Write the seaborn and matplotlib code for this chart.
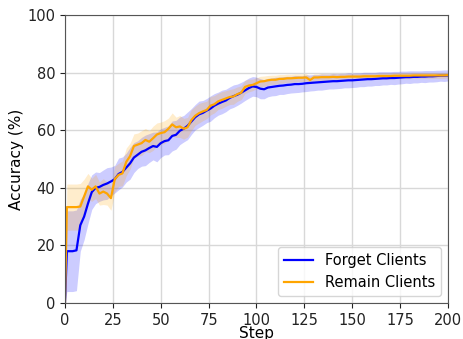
import matplotlib
matplotlib.use("Agg")
import matplotlib.pyplot as plt
import seaborn as sns
import numpy as np
import pandas as pd

steps = [0, 1] + list(range(2, 201, 2))

forget_mean = [0, 18, 18, 18, 18.3, 27, 30, 34.5, 38.5, 40, 40.3, 41, 41.5, 42.2, 43, 44.8,
               45.5, 47, 48.5, 50.5, 51.5, 52.5, 53, 53.8, 54.5, 54.2, 55.5, 56.2, 56.5, 58,
               58.4, 59.8, 60.5, 61.5, 63, 64.5, 65.5, 66, 66.8, 67.5, 68.5, 69.2, 69.8, 70.3,
               71.2, 71.8, 72.3, 73, 73.8, 74.6, 75.2, 75, 74.4, 74.2, 74.8, 75, 75.2, 75.4,
               75.5, 75.7, 75.8, 76, 76, 76.1, 76.3, 76.4, 76.5, 76.6, 76.7, 76.8, 76.9, 77,
               77, 77.1, 77.2, 77.3, 77.3, 77.4, 77.5, 77.6, 77.7, 77.7, 77.8, 77.9, 78, 78,
               78.1, 78.1, 78.2, 78.3, 78.4, 78.4, 78.5, 78.5, 78.6, 78.6, 78.7, 78.7, 78.8,
               78.9, 78.9, 79]

forget_sd = [0, 14, 14, 14, 14, 9, 8, 7, 6, 5.5, 5, 5.2, 5.5, 5, 4.8, 5.5,
             5.2, 5, 5.5, 5.2, 4.8, 5, 5.3, 5, 4.8, 5.2, 5, 4.8, 5, 5.2,
             5, 4.8, 4.6, 4.8, 4.5, 4.4, 4.6, 4.3, 4.2, 4.4, 4.2, 4, 4.1, 3.9,
             3.8, 3.9, 3.7, 3.6, 3.5, 3.5, 3.4, 3.4, 3.5, 3.3, 3.2, 3.1, 3.2, 3.0,
             3.1, 3.0, 2.9, 3.0, 2.9, 2.8, 2.9, 2.8, 2.8, 2.7, 2.8, 2.7, 2.6, 2.7,
             2.6, 2.6, 2.5, 2.6, 2.5, 2.5, 2.4, 2.5, 2.4, 2.4, 2.3, 2.4, 2.3, 2.3,
             2.2, 2.3, 2.2, 2.2, 2.1, 2.2, 2.1, 2.1, 2.0, 2.1, 2.0, 2.0, 2.0,
             1.9, 2.0, 1.9]

remain_mean = [0, 33.3, 33.3, 33.3, 33.3, 33.5, 37, 40.5, 39.3, 40.5, 38, 38.7, 38, 36.4,
               43, 44.5, 45, 49, 51, 54.5, 55, 55.5, 56.6, 56, 57.2, 58.5, 59, 59.3, 60.5,
               62, 61, 61.3, 60.5, 61, 63.5, 65, 65.9, 66.5, 67, 68.5, 69, 70, 70.5, 71,
               71.5, 71.7, 72.5, 73, 75, 75.5, 75.7, 76.3, 76.9, 77, 77.3, 77.5, 77.5, 77.8,
               77.8, 78, 78, 78.1, 78.2, 78.2, 78.3, 77.4, 78.3, 78.3, 78.4, 78.4, 78.4,
               78.5, 78.4, 78.5, 78.5, 78.6, 78.6, 78.6, 78.6, 78.7, 78.7, 78.7, 78.7, 78.8,
               78.8, 78.8, 78.8, 78.9, 78.9, 78.9, 78.9, 78.9, 79, 79, 79, 79, 79, 79,
               79, 79, 79, 79.1]

remain_sd = [0, 8, 8, 8, 8, 8, 6, 4.5, 4, 4.2, 4, 4.5, 4, 4.2, 4.5, 4, 4.3, 4.8, 4.5,
             4.2, 4, 4.3, 4, 3.8, 4.2, 4, 3.8, 4, 3.7, 4, 3.5, 3.8, 3.6, 3.4, 3.6,
             3.3, 3.4, 3.2, 3.0, 3.2, 3.0, 2.8, 2.9, 2.7, 2.6, 2.7, 2.5, 2.4, 2.3,
             2.2, 2.0, 1.9, 1.8, 1.8, 1.7, 1.6, 1.6, 1.5, 1.5, 1.4, 1.4, 1.4, 1.3,
             1.3, 1.3, 1.2, 1.2, 1.2, 1.2, 1.1, 1.1, 1.1, 1.1, 1.1, 1.0, 1.0, 1.0,
             1.0, 1.0, 1.0, 1.0, 1.0, 1.0, 1.0, 1.0, 1.0, 1.0, 1.0, 1.0, 1.0, 1.0,
             1.0, 1.0, 1.0, 1.0, 1.0, 1.0, 1.0, 1.0, 1.0, 1.0, 1.0]

x_ticks = [0, 25, 50, 75, 100, 125, 150, 175, 200]
y_ticks = [0, 20, 40, 60, 80, 100]

plt.rcParams['font.family'] = ['DejaVu Sans']
fig = plt.figure(figsize=(4.64, 3.39), dpi=100)
ax = fig.add_axes([0.140, 0.106, 0.8255, 0.850])

df = pd.DataFrame({
    "Step": steps * 2,
    "Accuracy": forget_mean + remain_mean,
    "Group": ["Forget Clients"] * len(steps) + ["Remain Clients"] * len(steps),
})
palette = {"Forget Clients": "blue", "Remain Clients": "orange"}

fm, fs = np.array(forget_mean), np.array(forget_sd)
rm, rs = np.array(remain_mean), np.array(remain_sd)
ax.fill_between(steps, fm - fs, fm + fs, color="blue", alpha=0.2, linewidth=0)
ax.fill_between(steps, rm - rs, rm + rs, color="orange", alpha=0.2, linewidth=0)
sns.lineplot(data=df, x="Step", y="Accuracy", hue="Group", palette=palette,
             linewidth=1.6, ax=ax)

ax.set_xlim(0, 200)
ax.set_ylim(0, 100)
ax.set_xticks(x_ticks)
ax.set_yticks(y_ticks)
ax.grid(True, color="#d8d8d8", linewidth=1)
ax.set_axisbelow(True)
for s in ax.spines.values():
    s.set_color("#555555")
ax.tick_params(labelsize=10.5, colors="#222222", length=3.5)
ax.set_xlabel("Step", fontsize=11, labelpad=-1)
ax.set_ylabel("Accuracy (%)", fontsize=11, labelpad=2)
leg = ax.legend(loc="lower right", fontsize=10.5, title=None)
fig.savefig("out.png", dpi=100)
